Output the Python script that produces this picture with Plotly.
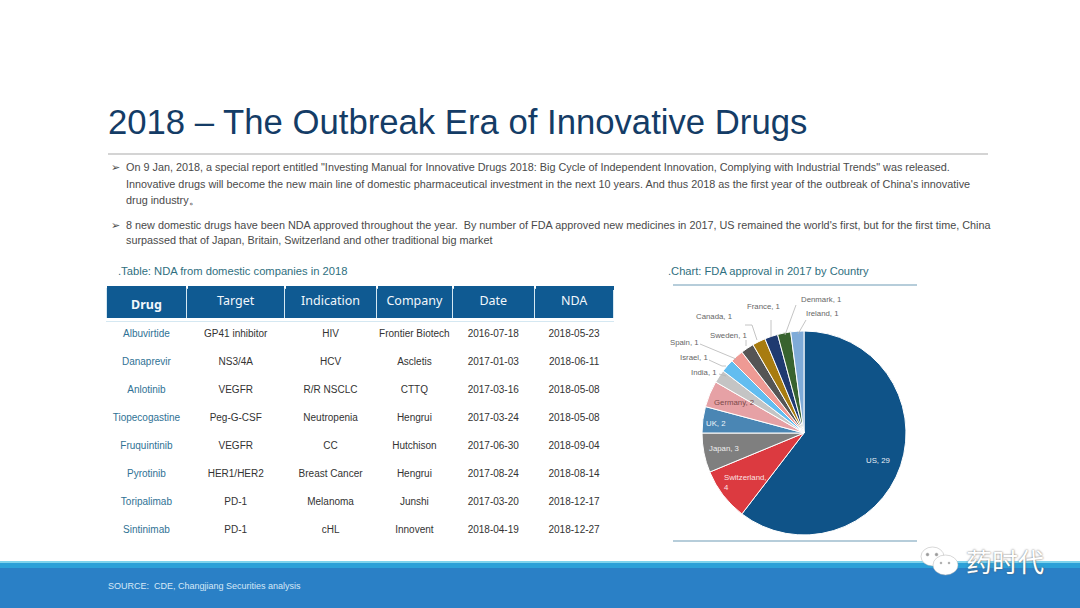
import plotly.graph_objects as go

W, H = 1080, 608
countries = ["US","Switzerland","Japan","UK","Germany","India","Israel","Spain","Sweden","Canada","France","Denmark","Ireland"]
approvals = [29,4,3,2,2,1,1,1,1,1,1,1,1]
slice_colors = ["#0f5388","#dc3a40","#7f7f7f","#4a86b4","#e6a1a5","#c4c4c4","#62bdf0","#ee9a94","#555555","#a87c10","#1f3a70","#38632f","#7fabd8"]
label_xy = [(878,460),(745,482),(724,448),(716,424),(734,402),(704,372),(694,357),(684,342),(728,335),(714,316),(763,306),(821,299),(822,313)]
label_col = ["#e8eef5","#fbe3e3","#eeeeee","#f0f5fa","#7a4a4a"] + ["#666666"]*8
leaders = {5:[(719,374),(726,376)],6:[(709,360),(722,366),(726,366)],7:[(700,344),(736,359)],8:[(746,340),(746,346)],
           9:[(745,325),(752,325),(757,340)],10:[(771,320),(771,337)],11:[(796,305),(785,335)],12:[(806,320),(798,334)]}

drugs = ["Albuvirtide","Danaprevir","Anlotinib","Tiopecogastine","Fruquintinib","Pyrotinib","Toripalimab","Sintinimab"]
targets = ["GP41 inhibitor","NS3/4A","VEGFR","Peg-G-CSF","VEGFR","HER1/HER2","PD-1","PD-1"]
indications = ["HIV","HCV","R/R NSCLC","Neutropenia","CC","Breast Cancer","Melanoma","cHL"]
companies = ["Frontier\u00a0Biotech","Ascletis","CTTQ","Hengrui","Hutchison","Hengrui","Junshi","Innovent"]
dates = ["2016-07-18","2017-01-03","2017-03-16","2017-03-24","2017-06-30","2017-08-24","2017-03-20","2018-04-19"]
ndas = ["2018-05-23","2018-06-11","2018-05-08","2018-05-08","2018-09-04","2018-08-14","2018-12-17","2018-12-27"]
headers = ["Drug","Target","Indication","Company","Date","NDA"]
col_edges = [106,187,285,377,453,535,615]

title = "2018 – The Outbreak Era of Innovative Drugs"
bullets = [
 (111,167,"➢"),(126,167,"On 9 Jan, 2018, a special report entitled \"Investing Manual for Innovative Drugs 2018: Big Cycle of Independent Innovation, Complying with Industrial Trends\" was released."),
 (126,184,"Innovative drugs will become the new main line of domestic pharmaceutical investment in the next 10 years. And thus 2018 as the first year of the outbreak of China's innovative"),
 (126,200,"drug industry。"),
 (111,225,"➢"),(126,225,"8 new domestic drugs have been NDA approved throughout the year.  By number of FDA approved new medicines in 2017, US remained the world's first, but for the first time, China"),
 (126,240,"surpassed that of Japan, Britain, Switzerland and other traditional big market"),
]

def px(x): return x / W
def py(y): return 1 - y / H

FONT = "Liberation Sans, Arial, sans-serif"
fig = go.Figure()

fig.add_trace(go.Table(
    domain=dict(x=[px(106), px(615)], y=[py(560), py(288)]),
    columnwidth=[b - a for a, b in zip(col_edges, col_edges[1:])],
    header=dict(values=[f"<b>{h}</b>" if h == "Drug" else h for h in headers], height=32, align="center",
                fill_color="#0f5a92", line=dict(color="#d5e8f2", width=1),
                font=dict(family="Noto Sans, Open Sans, sans-serif", size=12.5, color="#f2f7fb")),
    cells=dict(values=[drugs, targets, indications, companies, dates, ndas], height=28, align="center",
               fill_color="rgba(0,0,0,0)", line=dict(color="rgba(0,0,0,0)", width=0),
               font=dict(family=FONT, size=10, color=[["#2f7295"]*8] + [["#333333"]*8]*5)),
))

R = 102; CX, CY = 804, 433
fig.add_trace(go.Pie(
    labels=countries, values=approvals, sort=False, direction="clockwise", rotation=0,
    domain=dict(x=[px(CX-R), px(CX+R)], y=[py(CY+R), py(CY-R)]),
    marker=dict(colors=slice_colors, line=dict(color="white", width=1)),
    textinfo="none", hoverinfo="label+value", showlegend=False,
))

shapes = []
def rect(x0,y0,x1,y1,fill,layer="below"):
    shapes.append(dict(type="rect", xref="paper", yref="paper", x0=px(x0), x1=px(x1), y0=py(y0), y1=py(y1),
                       fillcolor=fill, line=dict(width=0), layer=layer))
def line(x0,y0,x1,y1,col,w=1):
    shapes.append(dict(type="line", xref="paper", yref="paper", x0=px(x0), x1=px(x1), y0=py(y0), y1=py(y1),
                       line=dict(color=col, width=w)))
rect(0,561,1080,608,"#2a80c6")
rect(0,561,1080,563,"#7fd3ec")
rect(0,563,1080,568,"#2ca0d8")
for a, b in zip(col_edges, col_edges[1:]):
    rect(a+1,286,b-1,290,"#0f5a92","above")
rect(105,318,616,321,"white","above")
line(108,154,988,154,"#a9a9a9",1.2)
line(673,285,917,285,"#6f9bb5",1.2)
line(673,541,917,541,"#6f9bb5",1.2)
for pts in leaders.values():
    for a, b in zip(pts, pts[1:]):
        line(*a, *b, "#b5b5b5", 0.8)
# WeChat mark
for (x0,y0,x1,y1,c) in [(921,547,944,566,"white"),(933,555,958,575,"white"),(926,553,929,556,"#9a9a9a"),(935,553,938,556,"#9a9a9a"),(940,562,942,564,"#9a9a9a"),(948,562,950,564,"#9a9a9a")]:
    shapes.append(dict(type="circle", xref="paper", yref="paper", x0=px(x0), x1=px(x1), y0=py(y0), y1=py(y1),
                       fillcolor=c, line=dict(color="#b0b0b0", width=0.5)))

ann = []
def text(x,y,s,size,col,anchor="left",family=FONT,**kw):
    off = -2 if anchor == "left" else 0
    ann.append(dict(x=px(x+off),y=py(y),xref="paper",yref="paper",text=s,showarrow=False,xanchor=anchor,yanchor="middle",
                    align="left",font=dict(family=family,size=size,color=col,**kw)))
text(108,122,title,34.7,"#143c66")
for x,y,s in bullets:
    text(x,y,s,10.84,"#4a4a4a")
text(118,271,".Table: NDA from domestic companies in 2018",11.2,"#2f6f80")
text(668,271,".Chart: FDA approval in 2017 by Country",11.15,"#2f6f80")
text(108,586,"SOURCE:  CDE, Changjiang Securities analysis",9,"#d6e8f6")
text(966,560,"药时代",26,"white",family="Noto Sans CJK SC",shadow="0 0 2px #555")
for i,(c,v) in enumerate(zip(countries,approvals)):
    x,y = label_xy[i]
    s = f"{c},<br>{v}" if c == "Switzerland" else f"{c}, {v}"
    text(x,y,s,7.8,label_col[i],anchor="center")

fig.update_layout(width=W,height=H,margin=dict(l=0,r=0,t=0,b=0),paper_bgcolor="white",shapes=shapes,annotations=ann)
fig.write_html("out.html", post_script="document.body.style.margin='0';", config=dict(displayModeBar=False))
